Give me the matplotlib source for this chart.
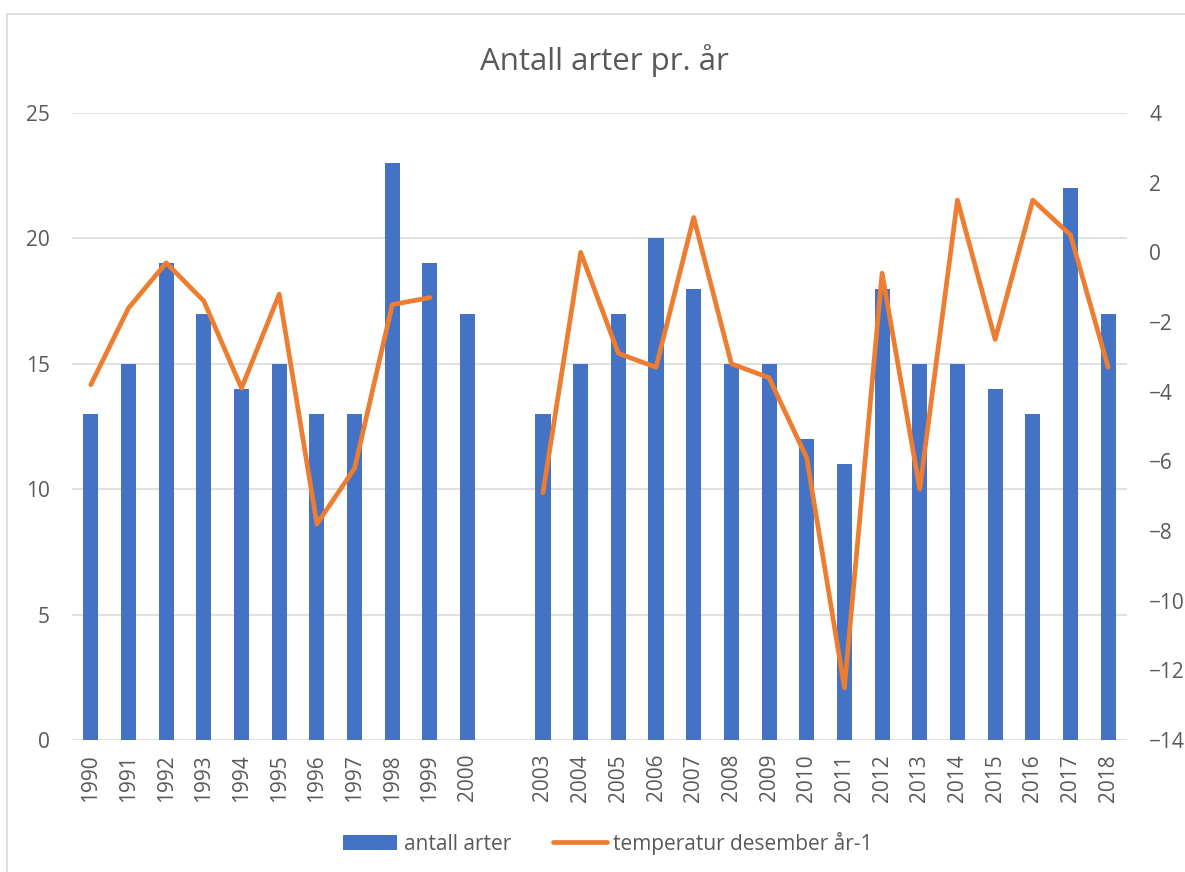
import numpy as np
import matplotlib
matplotlib.use("Agg")
import matplotlib.pyplot as plt
from matplotlib.patches import Rectangle

plt.rcParams['font.family'] = ['Open Sans', 'DejaVu Sans']

# data (one empty slot between 2000 and 2003, like in the source sheet)
years = ['1990', '1991', '1992', '1993', '1994', '1995', '1996', '1997', '1998', '1999', '2000', '',
         '2003', '2004', '2005', '2006', '2007', '2008', '2009', '2010', '2011', '2012', '2013',
         '2014', '2015', '2016', '2017', '2018']
antall_arter = [13, 15, 19, 17, 14, 15, 13, 13, 23, 19, 17, np.nan,
                13, 15, 17, 20, 18, 15, 15, 12, 11, 18, 15, 15, 14, 13, 22, 17]
temperatur = [-3.8, -1.6, -0.3, -1.4, -3.9, -1.2, -7.8, -6.2, -1.5, -1.3, np.nan, np.nan,
              -6.9, 0.0, -2.9, -3.3, 1.0, -3.2, -3.6, -5.9, -12.5, -0.6, -6.8, 1.5, -2.5, 1.5, 0.5, -3.3]

blue = '#4472C4'
orange = '#ED7D31'
txt = '#595959'
grid = '#D9D9D9'

fig = plt.figure(figsize=(11.85, 8.72), dpi=100)

# light outer border of the chart area (cut off on right/bottom)
fig.patches.append(Rectangle((7 / 1185, -0.1), 1.2, 1.1 - 14 / 872, transform=fig.transFigure,
                             fill=False, edgecolor=grid, linewidth=1.2, zorder=0))

ax = fig.add_axes([72 / 1185, 1 - 740 / 872, (1127 - 72) / 1185, (740 - 113) / 872])
x = np.arange(len(years))

ax.bar(x, antall_arter, width=0.4, color=blue, label='antall arter', zorder=2)
ax.set_xlim(-0.5, len(years) - 0.5)
ax.set_ylim(0, 25)
ax.set_yticks(np.arange(0, 26, 5))
ax.set_xticks(x)
ax.set_xticklabels(years, rotation=90)
ax.set_axisbelow(True)
ax.grid(axis='y', color=grid, linewidth=1.1)
ax.tick_params(axis='y', length=0, pad=16, labelsize=15, labelcolor=txt)
ax.tick_params(axis='x', length=0, pad=10, labelsize=15, labelcolor=txt)
for s in ax.spines.values():
    s.set_visible(False)

ax2 = ax.twinx()
ax2.plot(x, temperatur, color=orange, linewidth=3.4, solid_capstyle='round',
         solid_joinstyle='round', label='temperatur desember år-1', zorder=3)
ax2.set_ylim(-14, 4)
ax2.set_yticks(np.arange(-14, 5, 2))
ax2.tick_params(axis='y', length=0, pad=16, labelsize=15, labelcolor=txt)
for s in ax2.spines.values():
    s.set_visible(False)

fig.text(0.51, 0.931, 'Antall arter pr. år', ha='center', va='center', fontsize=22.5, color=txt)

h1, l1 = ax.get_legend_handles_labels()
h2, l2 = ax2.get_legend_handles_labels()
leg = fig.legend(h1 + h2, l1 + l2, loc='center', bbox_to_anchor=(0.513, 0.033), ncol=2,
                 frameon=False, fontsize=15, handlelength=2.6, handletextpad=0.3,
                 columnspacing=2.0, labelcolor=txt)

plt.savefig('out.png', dpi=100)
